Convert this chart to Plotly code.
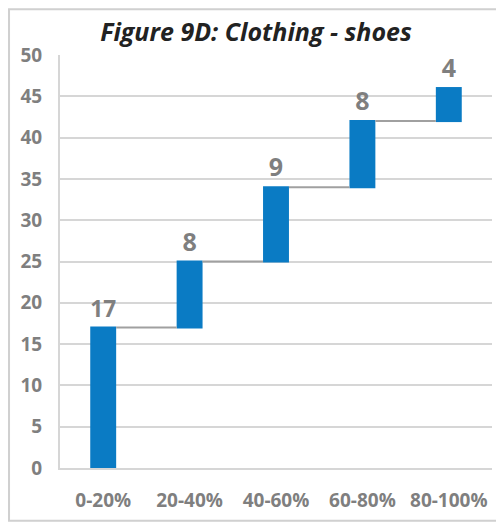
import plotly.graph_objects as go

categories = ["0-20%", "20-40%", "40-60%", "60-80%", "80-100%"]
values = [17, 8, 9, 8, 4]
y_ticks = [0, 5, 10, 15, 20, 25, 30, 35, 40, 45, 50]

BLUE = "#0a7bc4"
GREY = "#7f7f7f"
FONT = "Liberation Sans Narrow, Open Sans"

# page body adds an 8px margin, so the figure is a bit smaller than the window
fig = go.Figure(go.Waterfall(
    x=categories,
    y=values,
    measure=["relative"] * len(values),
    text=[str(v) for v in values],
    textposition="outside",
    textfont=dict(family=FONT, size=25, color=GREY, weight="bold"),
    increasing=dict(marker=dict(color=BLUE)),
    connector=dict(line=dict(color="#a0a0a0", width=2)),
    width=0.3,
    cliponaxis=False,
    hoverinfo="skip",
))

fig.update_layout(
    width=496, height=516,
    margin=dict(l=52, r=12, t=47, b=56),
    paper_bgcolor="white",
    plot_bgcolor="white",
    showlegend=False,
    title=dict(
        text="<b><i>Figure 9D: Clothing - shoes</i></b>",
        x=0.5, xanchor="center", y=0.953, yanchor="middle",
        font=dict(family="Open Sans", size=25, color="#222222"),
    ),
    shapes=[dict(
        type="rect", xref="paper", yref="paper",
        x0=-0.118, x1=1.2, y0=-0.128, y1=1.111,
        line=dict(color="#d0d0d0", width=2),
    )],
)

fig.update_yaxes(
    range=[0, 50],
    tickvals=y_ticks,
    showgrid=True, gridcolor="#d6d6d6", gridwidth=2,
    showline=True, linecolor="#d6d6d6", linewidth=2,
    zeroline=False,
    tickfont=dict(family=FONT, size=19, color=GREY, weight="bold"),
    ticklabelstandoff=12,
)
fig.update_xaxes(
    showgrid=False,
    showline=True, linecolor="#d6d6d6", linewidth=2,
    tickfont=dict(family=FONT, size=19, color=GREY, weight="bold"),
    ticklabelstandoff=14,
)

fig.write_html("out.html")
